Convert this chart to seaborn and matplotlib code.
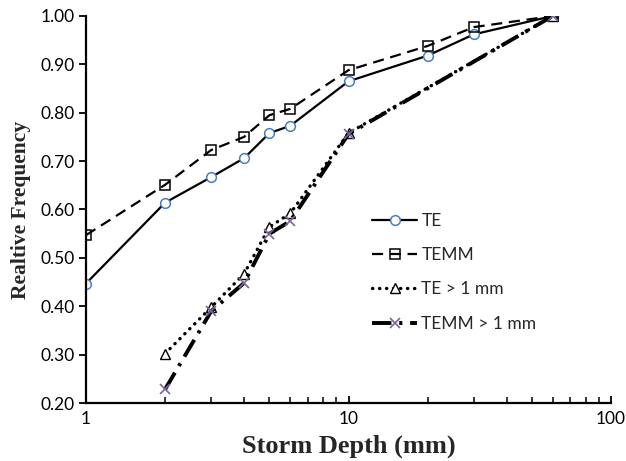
import numpy as np
import pandas as pd
import seaborn as sns
import matplotlib
matplotlib.use("Agg")
import matplotlib.pyplot as plt
from matplotlib.ticker import FixedLocator, FuncFormatter, LogLocator, NullFormatter

depth_all = [1, 2, 3, 4, 5, 6, 10, 20, 30, 60]
te = [0.447, 0.614, 0.667, 0.706, 0.758, 0.773, 0.865, 0.918, 0.962, 1.0]
temm = [0.547, 0.651, 0.723, 0.750, 0.795, 0.808, 0.888, 0.938, 0.977, 1.0]

depth_gt1 = [2, 3, 4, 5, 6, 10, 60]
te_gt1 = [0.302, 0.398, 0.467, 0.564, 0.592, 0.758, 1.0]
temm_gt1 = [0.228, 0.390, 0.448, 0.550, 0.576, 0.756, 1.0]

labels = ["TE", "TEMM", "TE > 1 mm", "TEMM > 1 mm"]

sns.set_style("ticks")
plt.rcParams["font.family"] = ["Lato", "DejaVu Sans"]

fig = plt.figure(figsize=(6.26, 4.61), dpi=100)
ax = fig.add_axes([86 / 626, 1 - 403 / 461, (611 - 86) / 626, (403 - 16) / 461])

series = [
    (depth_all, te, dict(color="black", lw=1.6, ls="-", marker="o", mfc="white",
                         mec="#4a7ebb", ms=7, mew=1.1)),
    (depth_all, temm, dict(color="black", lw=1.6, ls=(0, (5, 3)), marker="s", mfc="none",
                           mec="black", ms=7, mew=1.1)),
    (depth_gt1, te_gt1, dict(color="black", lw=2.4, ls=(0, (0.1, 2)), dash_capstyle="round",
                             marker="^", mfc="white", mec="black", ms=6.5, mew=1.0)),
    (depth_gt1, temm_gt1, dict(color="black", lw=2.8, ls=(0, (5, 2, 0.8, 2)),
                               marker="x", mec="#7e649e", ms=7, mew=1.2)),
]

for (xs, ys, kw), lab in zip(series, labels):
    df = pd.DataFrame({"Storm Depth": xs, "Frequency": ys})
    sns.lineplot(data=df, x="Storm Depth", y="Frequency", ax=ax, label=lab, **kw)

ax.set_xscale("log")
ax.set_xlim(1, 100)
ax.set_ylim(0.2, 1.0)
ax.yaxis.set_major_locator(FixedLocator(np.arange(0.2, 1.01, 0.1)))
ax.yaxis.set_major_formatter(FuncFormatter(lambda v, p: f"{v:.2f}"))
ax.xaxis.set_major_locator(FixedLocator([1, 10, 100]))
ax.xaxis.set_major_formatter(FuncFormatter(lambda v, p: f"{v:g}"))
ax.xaxis.set_minor_locator(LogLocator(base=10, subs=np.arange(2, 10)))
ax.xaxis.set_minor_formatter(NullFormatter())

for s in ["top", "right"]:
    ax.spines[s].set_visible(False)
for s in ["left", "bottom"]:
    ax.spines[s].set_linewidth(1.6)
    ax.spines[s].set_color("black")

ax.tick_params(axis="y", which="major", direction="out", length=5, width=1.3,
               labelsize=12.5, colors="black", pad=3)
ax.tick_params(axis="x", which="major", direction="in", length=5, width=1.3,
               labelsize=12.5, colors="black", pad=6)
ax.tick_params(axis="x", which="minor", direction="in", length=4, width=1.1, colors="black")

ax.set_xlabel("Storm Depth (mm)", fontsize=19, fontweight="bold",
              family="Liberation Serif", labelpad=5)
ax.set_ylabel("Realtive Frequency", fontsize=15.5, fontweight="bold",
              family="Liberation Serif", labelpad=7)

ax.legend(loc="upper left", bbox_to_anchor=(372 / 626, 1 - 213 / 461),
          bbox_transform=fig.transFigure, frameon=False, fontsize=12.5,
          handlelength=2.6, handletextpad=0.25, labelspacing=1.05,
          borderpad=0, borderaxespad=0, numpoints=1)

fig.savefig("out.png", dpi=100)
